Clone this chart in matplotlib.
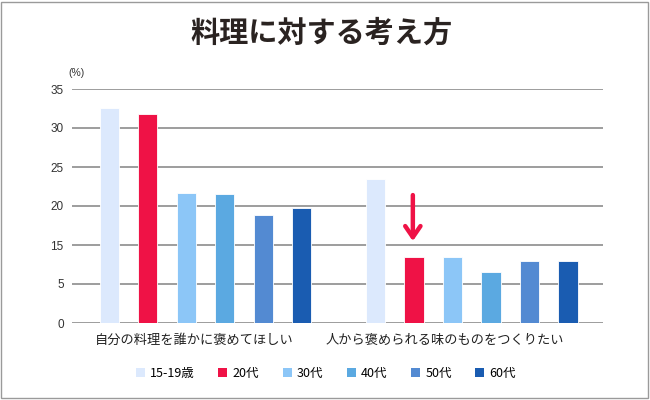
import matplotlib
matplotlib.use("Agg")
import matplotlib.pyplot as plt
from matplotlib.patches import Patch, Rectangle
from matplotlib.transforms import blended_transform_factory

plt.rcParams['font.family'] = ['Noto Sans CJK JP', 'DejaVu Sans']

# données (échelle des graduations hautes)
groups = ["自分の料理を誰かに褒めてほしい", "人から褒められる味のものをつくりたい"]
ages = ["15-19歳", "20代", "30代", "40代", "50代", "60代"]
v_15_19 = [32.6, 23.4]
v_20 = [31.8, 13.5]
v_30 = [21.7, 13.5]
v_40 = [21.5, 11.5]
v_50 = [18.9, 13.0]
v_60 = [19.7, 13.0]
series = [v_15_19, v_20, v_30, v_40, v_50, v_60]
colors = ['#dce9fd', '#ef1246', '#8cc6f7', '#5ba9e1', '#538ad2', '#1a5cb1']
ytick_values = [5, 10, 15, 20, 25, 30, 35]
ytick_labels = ["0", "5", "15", "20", "25", "30", "35"]

fig = plt.figure(figsize=(6.5, 4), dpi=100)
ax = fig.add_axes([0.1108, 0.1925, 0.8169, 0.585])

step = 0.1445
width = 0.073
for i, vals in enumerate(series):
    xs = [g + (i - 2.5) * step for g in range(len(groups))]
    ax.bar(xs, vals, width=width, bottom=0, color=colors[i],
           edgecolor='white', linewidth=0.6, zorder=3, label=ages[i])

ax.set_ylim(5, 35)
ax.set_xlim(-0.501, 1.492)
ax.set_yticks(ytick_values)
ax.set_yticklabels(ytick_labels, family=['Liberation Sans', 'DejaVu Sans'],
                   fontsize=8.5, color='#333333')
ax.set_xticks([])
ax.tick_params(axis='y', length=0, pad=6)
ax.yaxis.grid(True, color='#8c8c8c', linewidth=1.2)
ax.set_axisbelow(True)
for s in ax.spines.values():
    s.set_visible(False)

ax.text(0.009, 1.068, "(%)", transform=ax.transAxes, ha='center', va='center',
        fontsize=7.5, color='#333333', family=['Liberation Sans', 'DejaVu Sans'])

# libellés des groupes
trans = blended_transform_factory(ax.transData, ax.transAxes)
for x, label in zip([-0.043, 0.9], groups):
    ax.text(x, -0.073, label, transform=trans, ha='center', va='center',
            fontsize=9.5, color='#222222')

# flèche rouge sur la barre 20代
x_red = 1 + (1 - 2.5) * step
ax.annotate("", xy=(x_red - 0.005, v_20[1] + 2.0), xytext=(x_red - 0.005, v_20[1] + 7.9),
            arrowprops=dict(arrowstyle='->,head_width=0.55,head_length=0.8',
                            color='#ef1246', lw=3.2, capstyle='round',
                            shrinkA=0, shrinkB=0), zorder=5)

handles = [Patch(facecolor=c, edgecolor='none') for c in colors]
fig.legend(handles, ages, loc='center', bbox_to_anchor=(0.5015, 0.0675),
           ncol=6, frameon=False, fontsize=9, handlelength=0.72,
           handleheight=0.72, handletextpad=0.4, columnspacing=1.9)

fig.text(0.4946, 0.919, "料理に対する考え方", ha='center', va='center',
         fontsize=21, fontweight='bold', color='#2a2321')

fig.patches.append(Rectangle((0.002, 0.004), 0.995, 0.99, transform=fig.transFigure,
                             fill=False, edgecolor='#9a9a9a', linewidth=1))

plt.savefig("out.png", dpi=100)
plt.close()
